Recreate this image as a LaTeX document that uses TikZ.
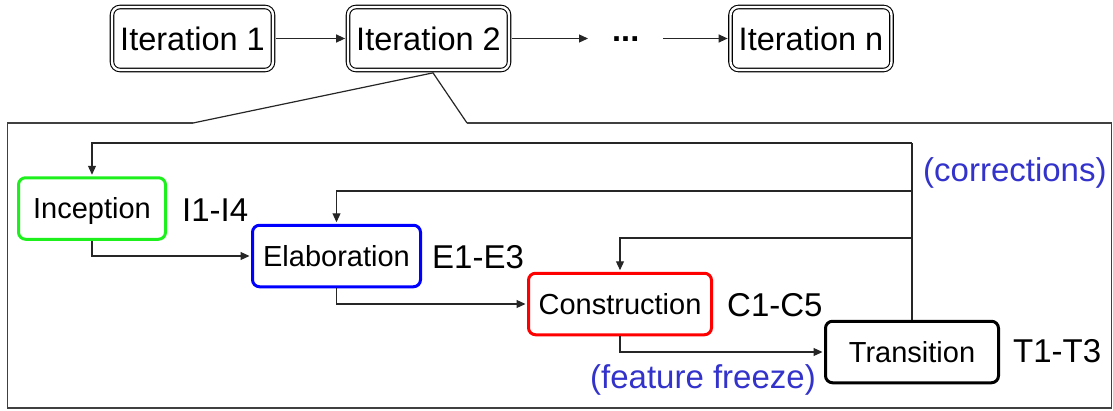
\documentclass[tikz,border=0pt]{standalone}
\usepackage{fontspec}
\setmainfont{Liberation Sans}
\usetikzlibrary{arrows.meta}
\definecolor{labblue}{RGB}{51,51,204}
\definecolor{boxgreen}{RGB}{30,240,30}
\definecolor{boxblue}{RGB}{0,0,255}
\definecolor{boxred}{RGB}{255,0,0}
\begin{document}
\begin{tikzpicture}[x=1pt,y=-1pt,
  iterbox/.style={draw, double, double distance=2.4pt, line width=1.1pt, rounded corners=8pt,
    minimum width=161pt, minimum height=63pt, inner sep=0pt,
    font=\fontsize{32.5}{39}\selectfont, text height=23.3pt, text depth=0pt},
  phase/.style={draw, line width=3pt, rounded corners=7pt, minimum height=61.5pt, inner sep=0pt,
    font=\fontsize{29}{35}\selectfont, text height=20.8pt, text depth=0pt},
  lab/.style={anchor=base west, inner sep=0pt, font=\fontsize{33}{40}\selectfont},
  note/.style={lab, text=labblue},
  conn/.style={line width=1.2pt, black!85},
  arr/.style={conn, -{Triangle[length=9pt,width=8pt]}},
]
\useasboundingbox (0,0) rectangle (1113,410);

% top row
\node[iterbox] (it1) at (192.5,38.5) {Iteration 1};
\node[iterbox] (it2) at (428.5,38.5) {Iteration 2};
\node[iterbox] (itn) at (811,38.5) {Iteration n};
\node[inner sep=0pt, anchor=base west, font=\fontsize{32.5}{39}\selectfont\bfseries] (dots) at (612,41) {...};

\draw[arr, shorten <=2.3pt, shorten >=2.3pt] (it1.east) -- (it2.west);
\draw[arr, shorten <=2.3pt] (it2.east) -- ([xshift=-24pt]dots.west |- it2.east);
\draw[arr, shorten >=2.3pt] ([xshift=24pt]dots.east |- itn.west) -- (itn.west);

% zoom-in frame
\coordinate (gapL) at (193,123);
\coordinate (gapR) at (467,123);
\draw[conn] (gapL) -- ([xshift=4.5pt,yshift=-2.3pt]it2.south) -- (gapR);
\draw[line width=1.5pt, black!75] (gapL) -- (7.5,123) -- (7.5,408) -- (1111.5,408) -- (1111.5,123) -- (gapR);

% phases
\node[phase, draw=boxgreen, minimum width=147pt] (inc) at (92,208.5) {Inception};
\node[phase, draw=boxblue, minimum width=168pt] (ela) at (336.5,256) {Elaboration};
\node[phase, draw=boxred, minimum width=183pt] (con) at (620,304) {Construction};
\node[phase, draw=black, minimum width=173pt] (tra) at (912,352) {Transition};

\node[lab] (lI) at (182,221) {I1-I4};
\node[lab] (lE) at (432,268) {E1-E3};
\node[lab] (lC) at (727,316) {C1-C5};
\node[lab] (lT) at (1013,362) {T1-T3};
\node[note] (corr) at (923,181) {(corrections)};
\node[note] (freeze) at (590,388) {(feature freeze)};

% forward flow
\draw[arr, shorten >=1.5pt] (inc.south) |- (ela.west);
\draw[arr, shorten >=1.5pt] (ela.south) |- (con.west);
\draw[arr, shorten >=1.5pt] (con.south) |- (tra.west);

% feedback
\coordinate (fbA) at (0,143);
\coordinate (fbB) at (0,191);
\coordinate (fbC) at (0,238);
\draw[conn] (tra.north) -- (tra.north |- fbA);
\draw[arr, shorten >=1.5pt] (tra.north |- fbA) -| (inc.north);
\draw[arr, shorten >=1.5pt] (tra.north |- fbB) -| (ela.north);
\draw[arr, shorten >=1.5pt] (tra.north |- fbC) -| (con.north);
\end{tikzpicture}
\end{document}
